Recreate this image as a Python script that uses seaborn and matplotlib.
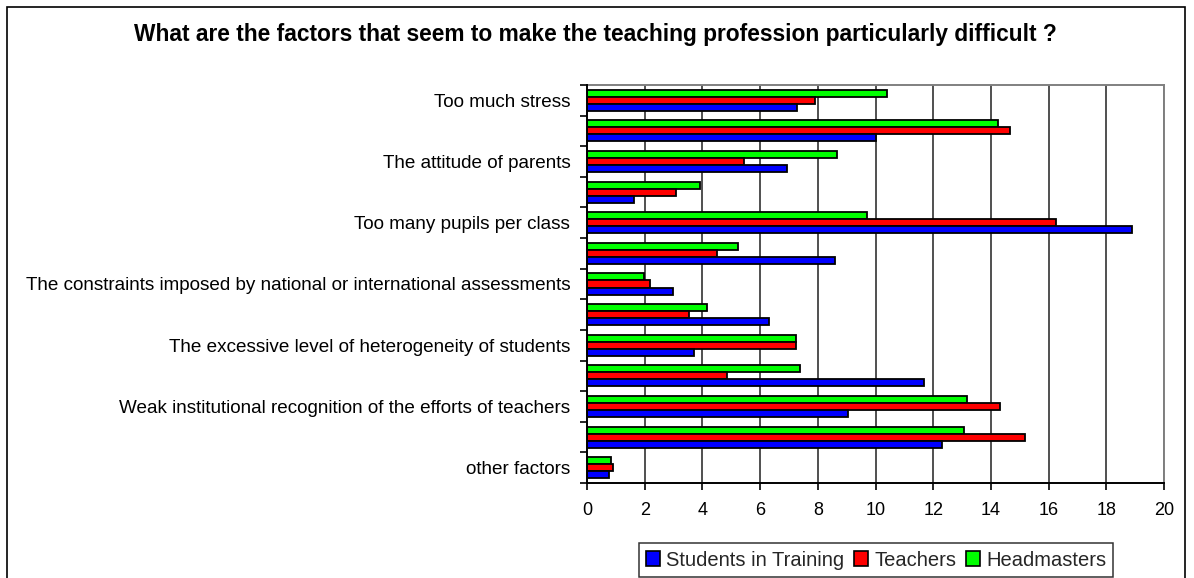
import matplotlib
matplotlib.use("Agg")
import matplotlib.pyplot as plt
from matplotlib.patches import Patch, Rectangle
import seaborn as sns
import pandas as pd

categories = [
    "Too much stress", "factor 2", "The attitude of parents", "factor 4",
    "Too many pupils per class", "factor 6",
    "The constraints imposed by national or international assessments", "factor 8",
    "The excessive level of heterogeneity of students", "factor 10",
    "Weak institutional recognition of the efforts of teachers", "factor 12",
    "other factors",
]
tick_labels = [
    "Too much stress", "", "The attitude of parents", "",
    "Too many pupils per class", "",
    "The constraints imposed by national or international assessments", "",
    "The excessive level of heterogeneity of students", "",
    "Weak institutional recognition of the efforts of teachers", "",
    "other factors",
]
students = [7.28, 10.0, 6.93, 1.64, 18.88, 8.58, 2.97, 6.30, 3.72, 11.68, 9.03, 12.29, 0.75]
teachers = [7.92, 14.66, 5.45, 3.07, 16.24, 4.50, 2.18, 3.55, 7.24, 4.86, 14.32, 15.17, 0.91]
headmasters = [10.39, 14.25, 8.67, 3.92, 9.71, 5.25, 1.97, 4.16, 7.24, 7.38, 13.17, 13.08, 0.84]
groups = ["Students in Training", "Teachers", "Headmasters"]
colors = {"Students in Training": "#0000FF", "Teachers": "#FF0000", "Headmasters": "#00FF00"}
x_ticks = [0, 2, 4, 6, 8, 10, 12, 14, 16, 18, 20]
title = "What are the factors that seem to make the teaching profession particularly difficult ?"

rows = []
for g, vals in zip(groups, [students, teachers, headmasters]):
    for c, v in zip(categories, vals):
        rows.append({"category": c, "group": g, "value": v})
df = pd.DataFrame(rows)

sns.set_theme(style="white")
plt.rcParams["font.family"] = ["Liberation Sans", "DejaVu Sans"]

W, H = 1194, 578
fig = plt.figure(figsize=(W / 100, H / 100), dpi=100)
ax = fig.add_axes([587 / W, 1 - 483 / H, (1164 - 587) / W, (483 - 85) / H])

sns.barplot(data=df, x="value", y="category", hue="group", order=categories,
            hue_order=["Headmasters", "Teachers", "Students in Training"],
            palette=colors, orient="h", width=0.69, edgecolor="black",
            linewidth=1.3, saturation=1, legend=False, ax=ax, zorder=3)

ax.set_xlim(0, 20)
ax.set_ylim(12.5, -0.5)
ax.set_xticks(x_ticks)
ax.set_xticklabels([str(t) for t in x_ticks], fontsize=13.0)
ax.set_yticks(range(len(categories)))
ax.set_yticklabels(tick_labels, fontsize=13.6)
ax.set_yticks([i - 0.5 for i in range(len(categories) + 1)], minor=True)
ax.tick_params(axis="y", which="major", length=0, pad=12, colors="black")
ax.tick_params(axis="y", which="minor", left=True, length=5, width=1.2, color="black")
ax.tick_params(axis="x", bottom=True, length=5, width=1.2, color="black", labelcolor="black", pad=9)
ax.set_xlabel("")
ax.set_ylabel("")
ax.grid(False)
for t in x_ticks[1:]:
    ax.axvline(t, color="#202020", linewidth=1.1, zorder=1)
for s in ["left", "bottom"]:
    ax.spines[s].set_color("black")
    ax.spines[s].set_linewidth(1.4)
    ax.spines[s].set_zorder(5)
for s in ["top", "right"]:
    ax.spines[s].set_color("#808080")
    ax.spines[s].set_linewidth(1.4)

fig.text(595 / W, 1 - 34 / H, title, ha="center", va="center", fontsize=16.4, fontweight="bold",
         color="black")

handles = [Patch(facecolor=colors[g], edgecolor="black", linewidth=1.2) for g in groups]
leg = fig.legend(handles, groups, loc="center", bbox_to_anchor=(876 / W, 1 - 560 / H), ncol=3,
                 frameon=True, fancybox=False, fontsize=14.5, handlelength=0.7, handleheight=0.7,
                 handletextpad=0.3, columnspacing=0.5, borderpad=0.35, borderaxespad=0)
leg.get_frame().set_edgecolor("black")
leg.get_frame().set_linewidth(1.1)

fig.patches.append(Rectangle((7 / W, -0.01), (1185 - 7) / W, 1.01 - 7 / H, transform=fig.transFigure,
                             fill=False, edgecolor="black", linewidth=1.2))

fig.savefig("out.png", dpi=100, facecolor="white")
